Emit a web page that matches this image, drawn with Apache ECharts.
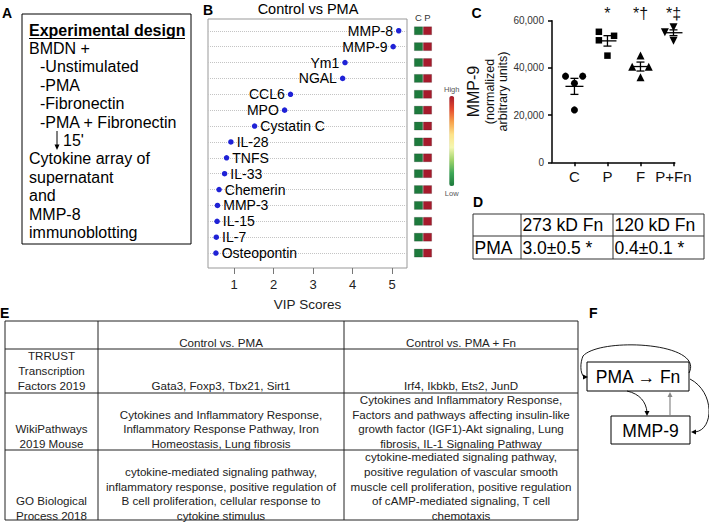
<!DOCTYPE html>
<html>
<head>
<meta charset="utf-8">
<script src="https://cdn.jsdelivr.net/npm/echarts@6/dist/echarts.min.js"></script>
<style>
  html, body { margin: 0; padding: 0; background: #fff; }
  #chart { width: 709px; height: 523px; }
</style>
</head>
<body>
<div id="chart"></div>
<script>
// ---- panel B: VIP scores (top to bottom) ----
const vipNames = ['MMP-8', 'MMP-9', 'Ym1', 'NGAL', 'CCL6', 'MPO', 'Cystatin C', 'IL-28',
  'TNFS', 'IL-33', 'Chemerin', 'MMP-3', 'IL-15', 'IL-7', 'Osteopontin']
const vipScores = [5.17, 5.03, 3.81, 3.75, 2.43, 2.28, 1.52, 0.92, 0.81, 0.76, 0.62, 0.58, 0.57, 0.55, 0.54]
const vipTicks = [1, 2, 3, 4, 5]
const heatCols = ['C', 'P']
const heatControl = [0, 0, 0, 0, 0, 0, 0, 0, 0, 0, 0, 0, 0, 0, 0]
const heatPMA = [1, 1, 1, 1, 1, 1, 1, 1, 1, 1, 1, 1, 1, 1, 1]

// ---- panel C: MMP-9 per group ----
const mmpGroups = ['C', 'P', 'F', 'P+Fn']
const mmpC = [36500, 36500, 33500, 22200]
const mmpP = [55300, 53600, 51700, 45200]
const mmpF = [45300, 40500, 40500, 36000]
const mmpPFn = [55100, 55800, 57200, 51500]
// horizontal spread of the dots inside each column
const spreadC = [-0.27, 0.25, 0, 0]
const spreadP = [-0.26, 0.2, -0.26, 0]
const spreadF = [0, -0.25, 0.25, 0]
const spreadPFn = [-0.26, 0.25, 0, 0]
const mmpMarks = ['', '*', '*\u2020', '*\u2021']
const mmpTicks = [0, 20000, 40000, 60000]

const FONT = '"Liberation Sans", Arial, sans-serif'
const chart = echarts.init(document.getElementById('chart'), null, { renderer: 'svg' })

const n = vipNames.length
const rowY = i => n - 1 - i

const txt = (x, y, text, o = {}) => {
  const align = o.align || 'left'
  const valign = o.valign || 'middle'
  return {
    type: 'text', x, y, silent: true,
    style: {
      text, fontFamily: FONT, fontSize: o.size || 16, fontWeight: o.weight || 'normal',
      fill: o.color || '#000', lineHeight: o.lh,
      align, textAlign: align, verticalAlign: valign, textVerticalAlign: valign
    }
  }
}
const ln = (x1, y1, x2, y2, color = '#000', w = 1) => ({
  type: 'line', silent: true, shape: { x1, y1, x2, y2 }, style: { stroke: color, lineWidth: w }
})
const box = (x, y, width, height, w = 1) => ({
  type: 'rect', silent: true, shape: { x, y, width, height }, style: { fill: 'none', stroke: '#000', lineWidth: w }
})
const curve = (x1, y1, cpx1, cpy1, cpx2, cpy2, x2, y2, color = '#000') => ({
  type: 'bezierCurve', silent: true, shape: { x1, y1, cpx1, cpy1, cpx2, cpy2, x2, y2 },
  style: { stroke: color, lineWidth: 0.9, fill: 'none' }
})
const head = (pts, color = '#000') => ({
  type: 'polygon', silent: true, shape: { points: pts }, style: { fill: color }
})

// panel A
const designLines = [
  ['BMDN +', 29], ['-Unstimulated', 40], ['-PMA', 40], ['-Fibronectin', 40],
  ['-PMA + Fibronectin', 40], ["15'", 63], ['Cytokine array of', 29], ['supernatant', 29],
  ['and', 29], ['MMP-8', 29], ['immunoblotting', 29]
]
const panelA = [
  box(22, 14, 169, 230),
  txt(29, 30, 'Experimental design', { weight: 'bold' }),
  ln(29, 38.5, 185, 38.5, '#000', 1.2),
  ...designLines.map((d, i) => txt(d[1], 48.4 + i * 18.4, d[0])),
  ln(57, 131, 57, 146),
  head([[57, 150], [54.5, 144.5], [59.5, 144.5]])
]

// panel D
const panelD = [
  ln(473, 214, 704, 214, '#333'), ln(473, 236, 704, 236, '#333'), ln(473, 259, 704, 259, '#333'),
  ln(473, 214, 473, 259, '#333'), ln(521, 214, 521, 259, '#333'),
  ln(613, 214, 613, 259, '#333'), ln(704, 214, 704, 259, '#333'),
  txt(522.5, 225, '273 kD Fn', { size: 17.5 }), txt(614.5, 225, '120 kD Fn', { size: 17.5 }),
  txt(474.5, 248, 'PMA', { size: 17.5 }), txt(522.5, 248, '3.0\u00b10.5 *', { size: 17.5 }),
  txt(614.5, 248, '0.4\u00b10.1 *', { size: 17.5 })
]

// panel E
const eCols = [51.5, 221, 461]
const eRows = [342, 385, 443.5, 515.3]
const eCells = [
  ['', 'Control vs. PMA', 'Control vs. PMA + Fn'],
  ['TRRUST\nTranscription\nFactors 2019', 'Gata3, Foxp3, Tbx21, Sirt1', 'Irf4, Ikbkb, Ets2, JunD'],
  ['WikiPathways\n2019 Mouse',
    'Cytokines and Inflammatory Response,\nInflammatory Response Pathway, Iron\nHomeostasis, Lung fibrosis',
    'Cytokines and Inflammatory Response,\nFactors and pathways affecting insulin-like\ngrowth factor (IGF1)-Akt signaling, Lung\nfibrosis, IL-1 Signaling Pathway'],
  ['GO Biological\nProcess 2018',
    'cytokine-mediated signaling pathway,\ninflammatory response, positive regulation of\nB cell proliferation, cellular response to\ncytokine stimulus',
    'cytokine-mediated signaling pathway,\npositive regulation of vascular smooth\nmuscle cell proliferation, positive regulation\nof cAMP-mediated signaling, T cell\nchemotaxis']
]
const panelE = [
  ...[321, 349, 393, 450, 520].map(y => ln(5, y, 578, y, '#222')),
  ...[5, 98, 344, 578].map(x => ln(x, 321, x, 520, '#222'))
]
eCells.forEach((row, r) => row.forEach((t, c) => {
  if (t) panelE.push(txt(eCols[c], eRows[r] + 7.3, t, { size: 11.6, align: 'center', valign: 'bottom', lh: 14.6, color: '#222' }))
}))

// panel F
const panelF = [
  box(587, 362, 102, 29), txt(638, 377, 'PMA \u2192 Fn', { size: 17.5, align: 'center' }),
  box(611, 416, 79, 28), txt(650.5, 430.5, 'MMP-9', { size: 17.5, align: 'center' }),
  curve(689, 373, 705, 342, 600, 337, 583, 356),
  curve(583, 356, 580, 363, 580, 373, 584, 377),
  head([[588, 377], [583, 374.5], [583, 379.5]]),
  curve(627, 391, 640, 394, 646, 402, 647, 412),
  head([[647, 416], [644.5, 411], [649.5, 411]]),
  ln(670, 415, 670, 396, '#888', 1.2),
  head([[670, 392], [667.5, 397], [672.5, 397]], '#888'),
  curve(690, 379, 715, 392, 714, 430, 695, 432),
  head([[691, 432], [696, 429.5], [696, 434.5]])
]

const letters = [
  txt(2, 12.5, 'A', { size: 14, weight: 'bold' }), txt(203, 10, 'B', { size: 14, weight: 'bold' }),
  txt(471.5, 12.5, 'C', { size: 14, weight: 'bold' }), txt(473, 202, 'D', { size: 14, weight: 'bold' }),
  txt(0, 312.5, 'E', { size: 14, weight: 'bold' }), txt(589, 312.5, 'F', { size: 14, weight: 'bold' }),
  txt(308, 8.5, 'Control vs PMA', { size: 14.5, align: 'center' })
]

const mean = a => a.reduce((s, v) => s + v, 0) / a.length
const sem = a => {
  const m = mean(a)
  return Math.sqrt(a.reduce((s, v) => s + (v - m) * (v - m), 0) / (a.length - 1) / a.length)
}
const groups = [
  { vals: mmpC, spread: spreadC, symbol: 'circle', size: 7, rot: 0 },
  { vals: mmpP, spread: spreadP, symbol: 'rect', size: 6.5, rot: 0 },
  { vals: mmpF, spread: spreadF, symbol: 'triangle', size: 8, rot: 0 },
  { vals: mmpPFn, spread: spreadPFn, symbol: 'triangle', size: 8, rot: 180 }
]

const heatData = []
vipNames.forEach((nm, i) => {
  heatData.push([0, rowY(i), heatControl[i]])
  heatData.push([1, rowY(i), heatPMA[i]])
})

chart.setOption({
  animation: false,
  textStyle: { fontFamily: FONT },
  grid: [
    { left: 208, top: 19, width: 199, height: 249, show: true, borderColor: '#999', borderWidth: 1 },
    { left: 414, top: 19, width: 18, height: 249 },
    { left: 552, top: 20.7, width: 122.8, height: 141.6 }
  ],
  xAxis: [
    {
      gridIndex: 0, type: 'value', min: 0.34, max: 5.38,
      axisLine: { show: false, onZero: false },
      axisTick: { show: true, customValues: vipTicks, length: 6, lineStyle: { color: '#777' } },
      axisLabel: { customValues: vipTicks, fontSize: 13, color: '#222', margin: 10 },
      splitLine: { show: false },
      name: 'VIP Scores', nameLocation: 'middle', nameGap: 29,
      nameTextStyle: { fontSize: 13.5, color: '#222' }
    },
    {
      gridIndex: 1, type: 'category', data: heatCols, position: 'top',
      axisLine: { show: false, onZero: false }, axisTick: { show: false },
      axisLabel: { fontSize: 9.5, color: '#333', margin: -3 }
    },
    {
      gridIndex: 2, type: 'value', min: 0.32, max: 4.04,
      axisLine: { onZero: false, lineStyle: { color: '#000', width: 1.5 } },
      axisTick: { show: true, customValues: [1, 2, 3, 4], length: 4, lineStyle: { color: '#000', width: 1.5 } },
      axisLabel: { customValues: [1, 2, 3, 4], formatter: v => mmpGroups[Math.round(v) - 1], fontSize: 15, color: '#111', margin: 7 },
      splitLine: { show: false }
    }
  ],
  yAxis: [
    { gridIndex: 0, type: 'value', min: -0.94, max: 14.74, show: false },
    { gridIndex: 1, type: 'value', min: -0.94, max: 14.74, show: false },
    {
      gridIndex: 2, type: 'value', min: 0, max: 60000, interval: 20000,
      axisLine: { show: true, onZero: false, lineStyle: { color: '#000', width: 1.5 } },
      axisTick: { show: true, customValues: mmpTicks, length: 4, lineStyle: { color: '#000', width: 1.5 } },
      axisLabel: { fontSize: 10, color: '#333', margin: 8, formatter: v => v.toLocaleString('en-US') },
      splitLine: { show: false },
      name: '{a|MMP-9}\n{b|(normalized}\n{b|arbitrary units)}',
      nameLocation: 'middle', nameGap: 40, nameRotate: 90,
      nameTextStyle: {
        color: '#111', align: 'center',
        rich: { a: { fontSize: 16, lineHeight: 19, color: '#111' }, b: { fontSize: 12.5, lineHeight: 13.5, color: '#111' } }
      }
    }
  ],
  visualMap: {
    type: 'continuous', seriesIndex: 1, dimension: 2, min: 0, max: 1,
    calculable: false, hoverLink: false,
    left: 429, top: 70, itemWidth: 5, itemHeight: 90, textGap: 3,
    text: ['High', 'Low'], textStyle: { fontSize: 7.5, color: '#555' },
    inRange: { color: ['#1d7a3c', '#3ea757', '#9fd36a', '#f4f7b0', '#fde38a', '#f7a04a', '#e4492e', '#a61b2c'] }
  },
  series: [
    {
      type: 'scatter', xAxisIndex: 0, yAxisIndex: 0, symbolSize: 5.5, z: 3,
      itemStyle: { color: '#1f22d6', opacity: 1 },
      data: vipNames.map((nm, i) => ({
        name: nm, value: [vipScores[i], rowY(i)],
        label: { position: vipScores[i] > 2 ? 'left' : 'right' }
      })),
      label: { show: true, formatter: '{b}', fontSize: 14, color: '#000', distance: 3, textBorderWidth: 0 },
      markLine: {
        silent: true, z: 1, symbol: ['none', 'none'], label: { show: false },
        lineStyle: { type: 'dotted', color: '#c4c4c4', width: 1 },
        data: vipNames.map((nm, i) => ({ yAxis: rowY(i) }))
      }
    },
    {
      type: 'scatter', xAxisIndex: 1, yAxisIndex: 1, symbol: 'rect', symbolSize: [8.3, 8],
      itemStyle: { borderColor: 'rgba(0,0,0,0.35)', borderWidth: 0.5, opacity: 1 },
      data: heatData
    },
    ...groups.map((g, gi) => ({
      type: 'scatter', xAxisIndex: 2, yAxisIndex: 2, symbol: g.symbol, symbolSize: g.size,
      symbolRotate: g.rot, itemStyle: { color: '#000', opacity: 1 },
      data: g.vals.map((v, j) => [gi + 1 + g.spread[j], v])
    })),
    {
      type: 'custom', xAxisIndex: 2, yAxisIndex: 2, z: 5,
      data: groups.map((g, i) => [i + 1, mean(g.vals), sem(g.vals)]),
      renderItem: (params, api) => {
        const x = api.value(0), m = api.value(1), s = api.value(2)
        const pm = api.coord([x, m]), pt = api.coord([x, m + s]), pb = api.coord([x, m - s])
        const st = { stroke: '#000', lineWidth: 1.3 }
        return {
          type: 'group', children: [
            { type: 'line', shape: { x1: pm[0] - 9, y1: pm[1], x2: pm[0] + 9, y2: pm[1] }, style: st },
            { type: 'line', shape: { x1: pt[0], y1: pt[1], x2: pb[0], y2: pb[1] }, style: st },
            { type: 'line', shape: { x1: pt[0] - 4, y1: pt[1], x2: pt[0] + 4, y2: pt[1] }, style: st },
            { type: 'line', shape: { x1: pb[0] - 4, y1: pb[1], x2: pb[0] + 4, y2: pb[1] }, style: st }
          ]
        }
      }
    },
    {
      type: 'scatter', xAxisIndex: 2, yAxisIndex: 2, symbolSize: 0, clip: false, silent: true,
      itemStyle: { opacity: 1 },
      data: mmpMarks.map((t, i) => ({ value: [i + 1, 60000], name: t })),
      label: { show: true, position: 'top', distance: -1, formatter: '{b}', fontSize: 16, color: '#111' }
    }
  ],
  graphic: { elements: [...letters, ...panelA, ...panelD, ...panelE, ...panelF] }
})
</script>
</body>
</html>
